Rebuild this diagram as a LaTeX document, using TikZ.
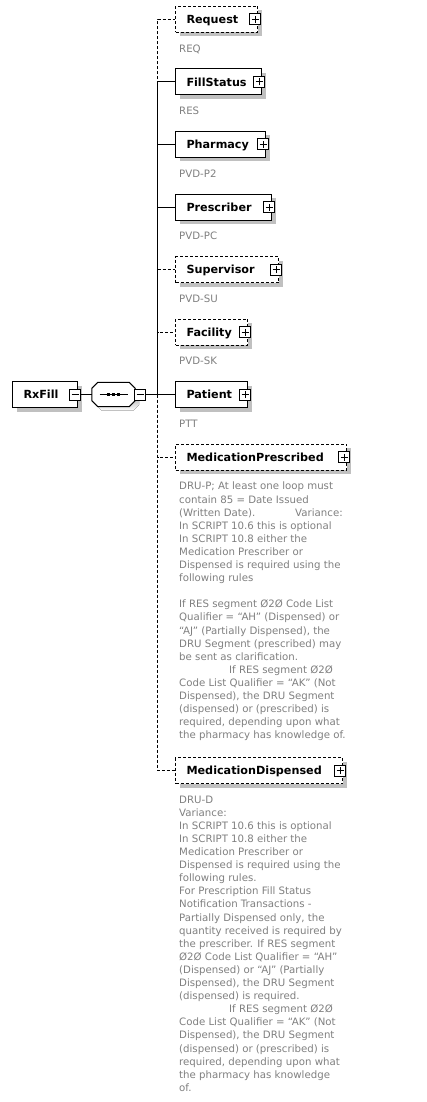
\documentclass[tikz,border=0pt]{standalone}
\usepackage{fontspec}
\setmainfont{DejaVu Sans}
\usetikzlibrary{shadows}
\definecolor{annot}{HTML}{808080}
\definecolor{shade}{HTML}{C0C0C0}
\tikzset{
  elembox/.style={draw=black, fill=white, line width=1pt, minimum height=26pt,
    inner xsep=11pt, inner ysep=0pt, anchor=west, align=left,
    font=\bfseries\fontsize{11.2}{13}\selectfont, text height=8.2pt, text depth=0pt,
    drop shadow={shadow xshift=4pt, shadow yshift=-4pt, fill=shade, opacity=1}},
  optbox/.style={elembox, dash pattern=on 3pt off 2pt},
  plusbox/.style={draw=black, fill=white, line width=1pt, minimum size=11pt, inner sep=0pt,
    path picture={
      \draw[line width=1pt] ([xshift=-3.5pt]path picture bounding box.center) -- ([xshift=3.5pt]path picture bounding box.center);
      \draw[line width=1pt] ([yshift=-3.5pt]path picture bounding box.center) -- ([yshift=3.5pt]path picture bounding box.center);}},
  minusbox/.style={draw=black, fill=white, line width=1pt, minimum size=11pt, inner sep=0pt,
    path picture={
      \draw[line width=1pt] ([xshift=-3.5pt]path picture bounding box.center) -- ([xshift=3.5pt]path picture bounding box.center);}},
  note/.style={anchor=north west, inner sep=0pt, align=left, text=annot,
    font=\fontsize{10.2}{13.1}\selectfont},
  conn/.style={draw=black, line width=1pt},
  optconn/.style={conn, dash pattern=on 3pt off 2pt},
  seqbox/.style={draw=none, minimum width=43pt, minimum height=24pt, inner sep=0pt}
}
\newcommand{\octpath}{([xshift=6pt]seq.north west) -- ([xshift=-6pt]seq.north east)
  -- ([yshift=-6pt]seq.north east) -- ([yshift=6pt]seq.south east)
  -- ([xshift=-6pt]seq.south east) -- ([xshift=6pt]seq.south west)
  -- ([yshift=6pt]seq.south west) -- ([yshift=-6pt]seq.north west) -- cycle}
\begin{document}
\begin{tikzpicture}[x=1pt,y=-1pt]
\useasboundingbox[fill=white] (0,0) rectangle (426,1102);

% root and compositor
\node[elembox, text width=43pt] (rx) at (12,394.5) {RxFill};
\node[minusbox] (rxm) at ([xshift=-3pt]rx.east) {};
\node[seqbox] (seq) at (113.5,394.5) {};
\begin{scope}[transform canvas={shift={(4pt,-4pt)}}]
  \fill[shade] \octpath;
\end{scope}
\draw[line width=1pt, fill=white] \octpath;
\draw[line width=1pt] ([xshift=-14pt]seq.center) -- ([xshift=14pt]seq.center);
\foreach \dx in {-5,0,5}
  \fill ([xshift=\dx pt]seq.center) +(-1.7pt,-1.7pt) rectangle +(1.7pt,1.7pt);
\node[minusbox] (seqm) at ([xshift=5pt]seq.east) {};
\coordinate (tj) at (157.5,394.5);

% children
\node[optbox,  text width=60pt]  (req)   at (175,19.5)  {Request};
\node[elembox, text width=64pt]  (fill)  at (175,82)    {FillStatus};
\node[elembox, text width=68pt]  (pharm) at (175,144.5) {Pharmacy};
\node[elembox, text width=74pt]  (presc) at (175,207)   {Prescriber};
\node[optbox,  text width=81pt]  (sup)   at (175,269.5) {Supervisor};
\node[optbox,  text width=50pt]  (fac)   at (175,332)   {Facility};
\node[elembox, text width=50pt]  (pat)   at (175,394.5) {Patient};
\node[optbox,  text width=149pt] (medp)  at (175,457)   {MedicationPrescribed};
\node[optbox,  text width=145pt] (medd)  at (175,770.5) {MedicationDispensed};

\foreach \n in {req,fill,pharm,presc,sup,fac,pat,medp,medd}
  \node[plusbox] (\n x) at ([xshift=-3pt]\n.east) {};

% connectors
\draw[conn] (rxm.east) -- (seq.west);
\draw[conn] (seqm.east) -- (tj);
\draw[optconn] (tj) |- (req.west);
\draw[optconn] (tj) |- (sup.west);
\draw[optconn] (tj) |- (fac.west);
\draw[optconn] (tj) |- (medd.west);
\draw[optconn] (tj) |- (medp.west);
\draw[conn] (tj) |- (fill.west);
\draw[conn] (tj) |- (pharm.west);
\draw[conn] (tj) |- (presc.west);
\draw[conn] (tj) -- (pat.west);

% annotations
\node[note] (reqn)   at (179,44.5)  {REQ};
\node[note] (filln)  at (179,107)   {RES};
\node[note] (pharmn) at (179,169.5) {PVD-P2};
\node[note] (prescn) at (179,232)   {PVD-PC};
\node[note] (supn)   at (179,294.5) {PVD-SU};
\node[note] (facn)   at (179,357)   {PVD-SK};
\node[note] (patn)   at (179,419.5) {PTT};
\node[note] (medpn)  at (179,482) {DRU-P; At least one loop must\\
contain 85 = Date Issued\\
\makebox[116pt][l]{(Written Date).}Variance:\\
In SCRIPT 10.6 this is optional\\
In SCRIPT 10.8 either the\\
Medication Prescriber or\\
Dispensed is required using the\\
following rules\\[13.1pt]
If RES segment Ø2Ø Code List\\
Qualifier = “AH” (Dispensed) or\\
“AJ” (Partially Dispensed), the\\
DRU Segment (prescribed) may\\
be sent as clarification.\\
\hspace*{50pt}If RES segment Ø2Ø\\
Code List Qualifier = “AK” (Not\\
Dispensed), the DRU Segment\\
(dispensed) or (prescribed) is\\
required, depending upon what\\
the pharmacy has knowledge of.};
\node[note] (meddn)  at (179,795.5) {DRU-D\\
Variance:\\
In SCRIPT 10.6 this is optional\\
In SCRIPT 10.8 either the\\
Medication Prescriber or\\
Dispensed is required using the\\
following rules.\\
For Prescription Fill Status\\
Notification Transactions -\\
Partially Dispensed only, the\\
quantity received is required by\\
the prescriber. If RES segment\\
Ø2Ø Code List Qualifier = “AH”\\
(Dispensed) or “AJ” (Partially\\
Dispensed), the DRU Segment\\
(dispensed) is required.\\
\hspace*{50pt}If RES segment Ø2Ø\\
Code List Qualifier = “AK” (Not\\
Dispensed), the DRU Segment\\
(dispensed) or (prescribed) is\\
required, depending upon what\\
the pharmacy has knowledge\\
of.};
\end{tikzpicture}
\end{document}
